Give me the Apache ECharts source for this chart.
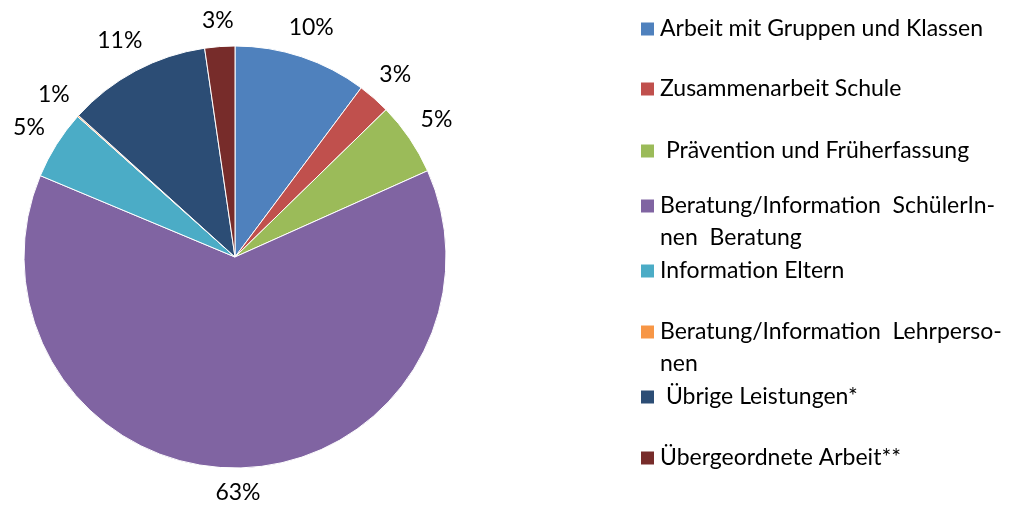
<!DOCTYPE html>
<html>
<head>
<meta charset="utf-8">
<script src="https://cdn.jsdelivr.net/npm/echarts@6/dist/echarts.min.js"></script>
<style>
  html, body { margin: 0; padding: 0; background: #fff; }
  #chart { width: 1035px; height: 506px; }
</style>
</head>
<body>
<div id="chart"></div>
<script>
// Anteile je Leistungsbereich (in %)
const categories = [
  'Arbeit mit Gruppen und Klassen',
  'Zusammenarbeit Schule',
  'Prävention und Früherfassung',
  'Beratung/Information SchülerInnen Beratung',
  'Information Eltern',
  'Beratung/Information Lehrpersonen',
  'Übrige Leistungen*',
  'Übergeordnete Arbeit**'
]
const values = [10.2, 2.5, 5.6, 63.0, 5.3, 0.1, 11.0, 2.3]
const pctLabels = ['10%', '3%', '5%', '63%', '5%', '1%', '11%', '3%']
const legendText = [
  'Arbeit mit Gruppen und Klassen',
  'Zusammenarbeit Schule',
  ' Prävention und Früherfassung',
  'Beratung/Information  SchülerIn-\nnen  Beratung',
  'Information Eltern',
  'Beratung/Information  Lehrperso-\nnen',
  ' Übrige Leistungen*',
  'Übergeordnete Arbeit**'
]

const colors = ['#4F81BD', '#C0504D', '#9BBB59', '#8064A2', '#4BACC6', '#F79646', '#2C4D75', '#772C2A']
const font = 'Lato, "Open Sans", sans-serif'
const cx = 235, cy = 257, R = 211
const lineH = 32
// y of the first text line of each legend entry
const legendY = [29, 89, 151, 206, 271, 332, 397, 458]

// mid angle of each slice, clockwise from 12 o'clock
const total = values.reduce((a, b) => a + b, 0)
let acc = 0
const midAngles = values.map(v => {
  const a = (acc + v / 2) / total * Math.PI * 2
  acc += v
  return a
})

const legends = categories.map((name, i) => {
  const lines = legendText[i].split('\n').length
  const text = lines > 1 ? '\n' + legendText[i] : legendText[i]
  const n = lines > 1 ? lines + 1 : 1
  return {
    data: [name],
    orient: 'vertical',
    left: 639,
    top: legendY[i] - n * lineH / 2,
    padding: 0,
    itemWidth: 15,
    itemHeight: 15,
    icon: 'rect',
    selectedMode: false,
    formatter: () => text,
    textStyle: {
      fontFamily: font,
      fontSize: 23,
      color: '#000',
      lineHeight: lineH
    }
  }
})

const chart = echarts.init(document.getElementById('chart'))
chart.setOption({
  animation: false,
  color: colors,
  legend: legends,
  series: [
    {
      type: 'pie',
      center: [cx, cy],
      radius: R,
      startAngle: 90,
      clockwise: true,
      avoidLabelOverlap: false,
      itemStyle: { borderColor: '#fff', borderWidth: 1 },
      emphasis: { disabled: true },
      label: {
        show: true,
        position: 'outside',
        fontFamily: font,
        fontSize: 23,
        color: '#000',
        formatter: p => pctLabels[p.dataIndex]
      },
      labelLine: { show: false },
      labelLayout: p => {
        const a = midAngles[p.dataIndex]
        const w = p.labelRect.width, h = p.labelRect.height
        const d = R + 13 + Math.abs(Math.sin(a)) * w / 2 + Math.abs(Math.cos(a)) * h / 2
        return {
          x: cx + d * Math.sin(a),
          y: cy - d * Math.cos(a),
          align: 'center',
          verticalAlign: 'middle'
        }
      },
      data: categories.map((name, i) => ({ name, value: values[i] }))
    }
  ]
})
</script>
</body>
</html>
